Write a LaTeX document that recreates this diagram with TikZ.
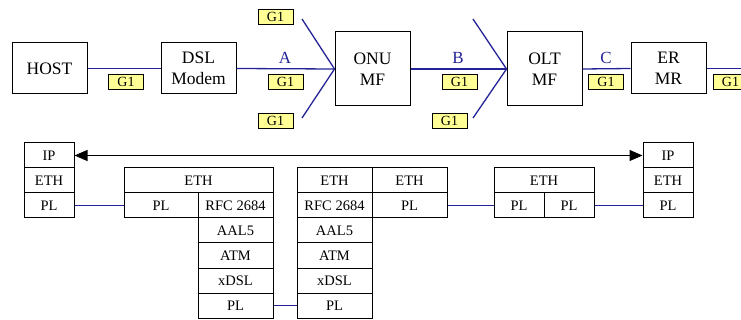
\documentclass[tikz,border=0pt]{standalone}
\usepackage{fontspec}
\setmainfont{Liberation Serif}
\usetikzlibrary{arrows.meta,positioning}
\definecolor{LinkBlue}{RGB}{35,35,150}
\definecolor{TagYellow}{RGB}{255,255,150}

\begin{document}
\begin{tikzpicture}[x=1pt,y=-1pt,
  dev/.style={draw,line width=1pt,inner sep=0pt,minimum width=75pt,align=center,font=\fontsize{17.5}{21}\selectfont},
  tag/.style={draw,fill=TagYellow,line width=.8pt,minimum width=35pt,minimum height=15pt,inner sep=0pt,font=\fontsize{14}{14}\selectfont},
  lnk/.style={LinkBlue,line width=1.3pt},
  ref/.style={LinkBlue,anchor=base,font=\fontsize{17}{17}\selectfont},
  cell/.style={draw,line width=1pt,minimum height=25pt,inner sep=0pt,font=\fontsize{14.5}{14.5}\selectfont}]
\useasboundingbox (0,0) rectangle (741,320);
% network chain
\node[dev,minimum height=51pt] (host) at (49.5,68.5) {HOST};
\node[dev,minimum height=51pt] (modem) at (198.5,68.5) {DSL\\Modem};
\node[dev,minimum height=74pt] (onu) at (372.5,69) {ONU\\MF};
\node[dev,minimum height=74pt] (olt) at (544.5,69) {OLT\\MF};
\node[dev,minimum height=51pt] (er) at (668.5,68.5) {ER\\MR};
\coordinate (onuTop) at (302,19);
\coordinate (onuBot) at (302,118);
\coordinate (oltTop) at (473,19);
\coordinate (oltBot) at (473,118);
\coordinate (erOut) at (741,68.5);
\draw[lnk] (host.east) -- (modem.west);
\draw[lnk] (modem.east) -- (onu.west);
\draw[lnk] (onuTop) -- (onu.west) -- (onuBot);
\draw[lnk] (onu.east) -- (olt.west);
\draw[lnk] (oltTop) -- (olt.west) -- (oltBot);
\draw[lnk] (olt.east) -- (er.west);
\draw[lnk] (er.east) -- (erOut);
\node[ref] (refA) at (285,64) {A};
\node[ref] (refB) at (458,64) {B};
\node[ref] (refC) at (606,64) {C};
\foreach \x/\y/\n in {126/81.5/g1, 285.5/81.5/g2, 275.5/16.5/g3, 275.5/120.5/g4, 459.5/81.5/g5, 449.5/120.5/g6, 606/81.5/g7, 730.5/81.5/g8}
  {\node[tag] (\n) at (\x,\y) {G1};}
% protocol stacks
\foreach \t/\n/\y in {IP/hIP/155.5, ETH/hETH/180.5, PL/hPL/205.5}
  {\node[cell,minimum width=50pt] (\n) at (49,\y) {\t};}
\node[cell,minimum width=149pt] (mETH) at (198.5,180.5) {ETH};
\node[cell,minimum width=74pt] (mPLa) at (161,205.5) {PL};
\foreach \t/\n/\y in {RFC 2684/mRFC/205.5, AAL5/mAAL/230.5, ATM/mATM/255.5, xDSL/mDSL/280.5, PL/mPLb/305.5}
  {\node[cell,minimum width=75pt] (\n) at (235.5,\y) {\t};}
\foreach \t/\n/\y in {ETH/oETH/180.5, RFC 2684/oRFC/205.5, AAL5/oAAL/230.5, ATM/oATM/255.5, xDSL/oDSL/280.5, PL/oPLb/305.5}
  {\node[cell,minimum width=75pt] (\n) at (334.5,\y) {\t};}
\node[cell,minimum width=75pt] (oETHr) at (409.5,180.5) {ETH};
\node[cell,minimum width=75pt] (oPLr) at (409.5,205.5) {PL};
\node[cell,minimum width=100pt] (tETH) at (544,180.5) {ETH};
\node[cell,minimum width=50pt] (tPLa) at (519,205.5) {PL};
\node[cell,minimum width=50pt] (tPLb) at (569,205.5) {PL};
\foreach \t/\n/\y in {IP/rIP/155.5, ETH/rETH/180.5, PL/rPL/205.5}
  {\node[cell,minimum width=50pt] (\n) at (668,\y) {\t};}
\draw[line width=1.1pt,{Triangle[length=13pt,width=11pt]}-{Triangle[length=13pt,width=11pt]}] (hIP.east) -- (rIP.west);
\draw[lnk] (hPL.east) -- (mPLa.west);
\draw[lnk] (mPLb.east) -- (oPLb.west);
\draw[lnk] (oPLr.east) -- (tPLa.west);
\draw[lnk] (tPLb.east) -- (rPL.west);
\end{tikzpicture}
\end{document}
